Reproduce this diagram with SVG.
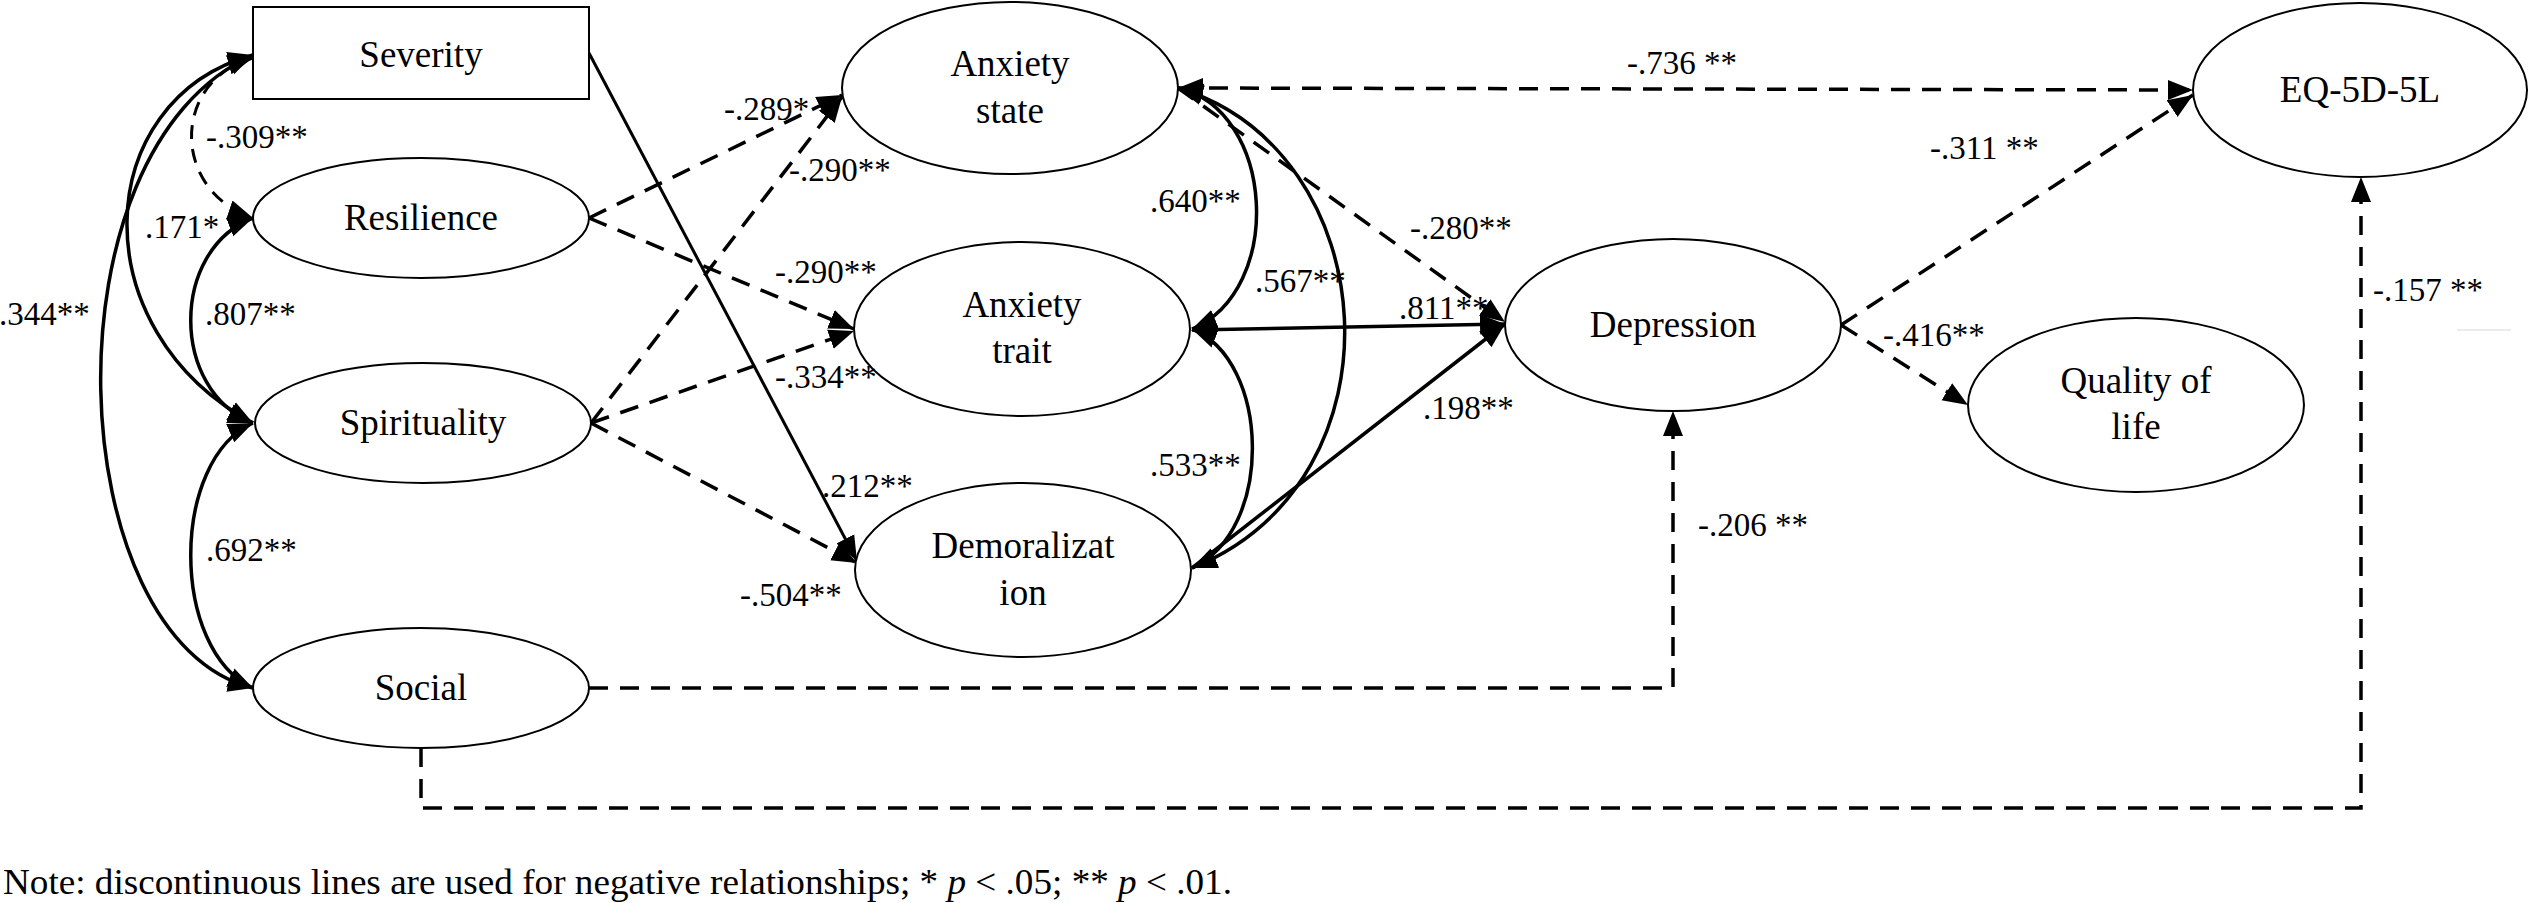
<svg xmlns="http://www.w3.org/2000/svg" width="2529" height="903" viewBox="0 0 2529 903" font-family="Liberation Serif, Times New Roman, DejaVu Serif, serif">
<style>
.node{fill:#fff;stroke:#000;stroke-width:2}
.nt{font-family:'Liberation Serif','Times New Roman','DejaVu Serif',serif;font-size:37px;text-anchor:middle;fill:#000}
.lb{font-family:'Liberation Serif','Times New Roman','DejaVu Serif',serif;font-size:33px;fill:#000}
.s{fill:none;stroke:#000;stroke-width:3.5}
.d{fill:none;stroke:#000;stroke-width:3.5;stroke-dasharray:19 12}
.dc{fill:none;stroke:#000;stroke-width:3;stroke-dasharray:14 10}
.a{marker-end:url(#ah)}
.aa{marker-start:url(#ah);marker-end:url(#ah)}
</style>
<defs>
<marker id="ah" markerUnits="userSpaceOnUse" markerWidth="26" markerHeight="22" refX="25" refY="10" orient="auto-start-reverse" viewBox="0 0 26 20">
<path d="M0,0 L25,10 L0,20 z" fill="#000"/>
</marker>
</defs>
<rect width="2529" height="903" fill="#fff"/>
<g id="connectors">
<path class="s aa" d="M253,55 C40,150 60,640 253,688"/>
<path class="s aa" d="M253,55 C90,100 80,330 253,423"/>
<path class="dc aa" d="M253,58 C172,80 170,190 253,218"/>
<path class="s aa" d="M253,218 C170,250 170,390 253,423"/>
<path class="s aa" d="M253,423 C170,460 170,650 253,688"/>
<path class="s a" style="stroke-width:3" d="M589,53 L857,561"/>
<path class="d a" d="M589,218 L842,95"/>
<path class="d a" d="M589,218 L854,329"/>
<path class="d a" d="M591,423 L842,97"/>
<path class="d a" d="M591,423 L854,331"/>
<path class="d a" d="M591,423 L857,563"/>
<path class="s aa" d="M1178,88 C1275,110 1285,290 1192,329"/>
<path class="s aa" d="M1178,88 C1385,150 1410,480 1192,568"/>
<path class="s aa" d="M1192,329 C1270,360 1275,530 1192,568"/>
<path class="d a" d="M1178,88 L1505,322"/>
<path class="s a" d="M1192,330 L1505,324"/>
<path class="s a" d="M1192,568 L1505,324"/>
<path class="d aa" d="M1178,88 L2193,90"/>
<path class="d a" d="M1841,325 L2193,95"/>
<path class="d a" d="M1841,325 L1968,405"/>
<path class="d a" d="M589,688 H1673 V411"/>
<path class="d a" d="M421,748 V808 H2361 V177"/>
<line x1="2457" y1="330" x2="2511" y2="330" stroke="#e4e4e4" stroke-width="1.5"/>
</g>
<g id="severity"><rect class="node" x="253" y="7" width="336" height="92"/><text class="nt" x="421" y="67">Severity</text></g>
<g id="resilience"><ellipse class="node" cx="421" cy="218" rx="168" ry="60"/><text class="nt" x="421" y="230">Resilience</text></g>
<g id="spirituality"><ellipse class="node" cx="423" cy="423" rx="168" ry="60"/><text class="nt" x="423" y="435">Spirituality</text></g>
<g id="social"><ellipse class="node" cx="421" cy="688" rx="168" ry="60"/><text class="nt" x="421" y="700">Social</text></g>
<g id="anxiety-state"><ellipse class="node" cx="1010" cy="88" rx="168" ry="86"/><text class="nt" x="1010" y="76">Anxiety</text><text class="nt" x="1010" y="123">state</text></g>
<g id="anxiety-trait"><ellipse class="node" cx="1022" cy="329" rx="168" ry="87"/><text class="nt" x="1022" y="317">Anxiety</text><text class="nt" x="1022" y="363">trait</text></g>
<g id="demoralization"><ellipse class="node" cx="1023" cy="570" rx="168" ry="87"/><text class="nt" x="1023" y="558">Demoralizat</text><text class="nt" x="1023" y="605">ion</text></g>
<g id="depression"><ellipse class="node" cx="1673" cy="325" rx="168" ry="86"/><text class="nt" x="1673" y="337">Depression</text></g>
<g id="eq5d5l"><ellipse class="node" cx="2360" cy="90" rx="167" ry="87"/><text class="nt" x="2360" y="102">EQ-5D-5L</text></g>
<g id="quality-of-life"><ellipse class="node" cx="2136" cy="405" rx="168" ry="87"/><text class="nt" x="2136" y="393">Quality of</text><text class="nt" x="2136" y="439">life</text></g>
<g id="labels">
<text class="lb" x="206" y="148">-.309**</text>
<text class="lb" x="145" y="238">.171*</text>
<text class="lb" x="205" y="325">.807**</text>
<text class="lb" x="-1" y="325">.344**</text>
<text class="lb" x="206" y="561">.692**</text>
<text class="lb" x="724" y="120">-.289*</text>
<text class="lb" x="789" y="181">-.290**</text>
<text class="lb" x="775" y="283">-.290**</text>
<text class="lb" x="775" y="388">-.334**</text>
<text class="lb" x="822" y="497">.212**</text>
<text class="lb" x="740" y="606">-.504**</text>
<text class="lb" x="1150" y="212">.640**</text>
<text class="lb" x="1255" y="292">.567**</text>
<text class="lb" x="1150" y="476">.533**</text>
<text class="lb" x="1410" y="239">-.280**</text>
<text class="lb" x="1399" y="319">.811**</text>
<text class="lb" x="1423" y="419">.198**</text>
<text class="lb" x="1627" y="74">-.736 **</text>
<text class="lb" x="1930" y="159">-.311 **</text>
<text class="lb" x="1883" y="346">-.416**</text>
<text class="lb" x="2373" y="301">-.157 **</text>
<text class="lb" x="1698" y="536">-.206 **</text>
</g>
<text class="lb" x="3" y="894" style="font-size:35px" textLength="1229" lengthAdjust="spacingAndGlyphs">Note: discontinuous lines are used for negative relationships; * <tspan font-style="italic">p</tspan> &lt; .05; ** <tspan font-style="italic">p</tspan> &lt; .01.</text>
</svg>
